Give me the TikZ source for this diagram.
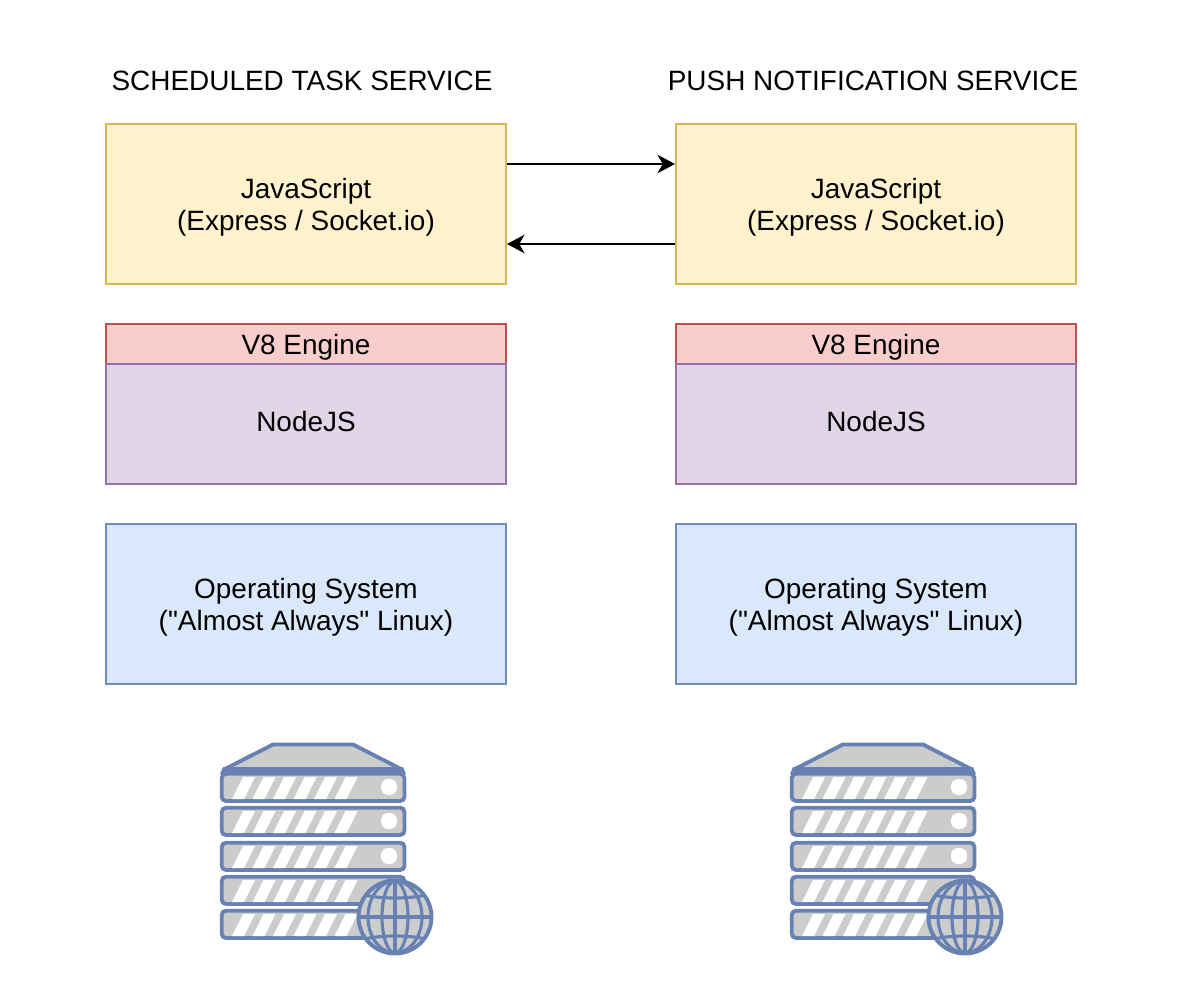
\documentclass[tikz,border=0pt]{standalone}
\usepackage{fontspec}
\newfontfamily\labelfont{Liberation Sans}
\usetikzlibrary{arrows.meta}
\definecolor{iconblue}{HTML}{6881B3}
\definecolor{icongray}{HTML}{CCCCCC}
\definecolor{jsfill}{HTML}{FFF2CC}
\definecolor{jsline}{HTML}{D6B656}
\definecolor{enginefill}{HTML}{F8CECC}
\definecolor{engineline}{HTML}{B85450}
\definecolor{nodefill}{HTML}{E1D5E7}
\definecolor{nodeline}{HTML}{9673A6}
\definecolor{osfill}{HTML}{DAE8FC}
\definecolor{osline}{HTML}{6C8EBF}
\tikzset{
  >={Stealth[length=10pt,width=10.5pt,inset=3pt]},
  box/.style={draw,line width=1.1pt,minimum width=8cm,inner sep=0pt,align=center,font=\labelfont\fontsize{15.9}{18.2}\selectfont},
  twolines/.style={box,minimum height=3.2cm,text height=31pt,text depth=0.4pt},
  title/.style={inner sep=0pt,font=\labelfont\fontsize{15.9}{18.2}\selectfont},
  iconline/.style={draw=iconblue,line width=2.2pt},
  globeline/.style={draw=iconblue,line width=1.8pt},
  server/.pic={
    \draw[iconline,fill=icongray,line join=round] (5,26)--(53,1.5)--(133,1.5)--(181,26)--cycle;
    \fill[iconblue] (3,24)--(183,24)--(186,31)--(0,31)--cycle;
    \foreach \rowy in {29,63,98,132,166}{
      \draw[iconline,fill=icongray,rounded corners=2.5pt] (1.7,\rowy+1.7) rectangle (184.5,\rowy+29);
      \foreach \k in {0,...,5}
        \fill[white] (12+20.5*\k,\rowy+27)--(23+20.5*\k,\rowy+5)--(35+20.5*\k,\rowy+5)--(24+20.5*\k,\rowy+27)--cycle;
    }
    \foreach \rowy in {29,63,98}
      \fill[white,rounded corners=4pt] (161,\rowy+7) rectangle (177,\rowy+23);
    % globe
    \draw[iconline,fill=icongray] (175,174) circle [radius=36.5];
    \begin{scope}
      \clip (175,174) circle [radius=36.5];
      \draw[globeline] (175,174) ellipse [x radius=13,y radius=36];
      \draw[globeline] (175,174) ellipse [x radius=27,y radius=36];
      \draw[globeline] (175,138)--(175,210);
      \draw[globeline] (139,174)--(211,174);
      \draw[globeline] (145,152) .. controls (160,156) and (190,156) .. (205,152);
      \draw[globeline] (145,196) .. controls (160,192) and (190,192) .. (205,196);
    \end{scope}
  }
}
\begin{document}
\begin{tikzpicture}[x=0.02cm,y=-0.02cm]
  \useasboundingbox (0,0) rectangle (1180,1006);
  \foreach \col/\cx/\tx/\sx/\ttl in {a/306/302/220/SCHEDULED TASK SERVICE,b/876/873/790/PUSH NOTIFICATION SERVICE}{
    \node[title] (title\col) at (\tx,81) {\ttl};
    \node[twolines,fill=jsfill,draw=jsline] (js\col) at (\cx,204) {JavaScript\\(Express / Socket.io)};
    \node[box,fill=enginefill,draw=engineline,minimum height=0.8cm,text height=14pt,text depth=1.6pt] (engine\col) at (\cx,344) {V8 Engine};
    \node[box,fill=nodefill,draw=nodeline,minimum height=2.4cm,text height=12pt,text depth=4pt] (node\col) at (\cx,424) {NodeJS};
    \node[twolines,fill=osfill,draw=osline] (os\col) at (\cx,604) {Operating System\\("Almost Always" Linux)};
    \pic at (\sx,743) {server};
  }
  \draw[->,line width=1.1pt] ([yshift=0.8cm]jsa.east) -- ([yshift=0.8cm]jsb.west);
  \draw[->,line width=1.1pt] ([yshift=-0.8cm]jsb.west) -- ([yshift=-0.8cm]jsa.east);
\end{tikzpicture}
\end{document}
